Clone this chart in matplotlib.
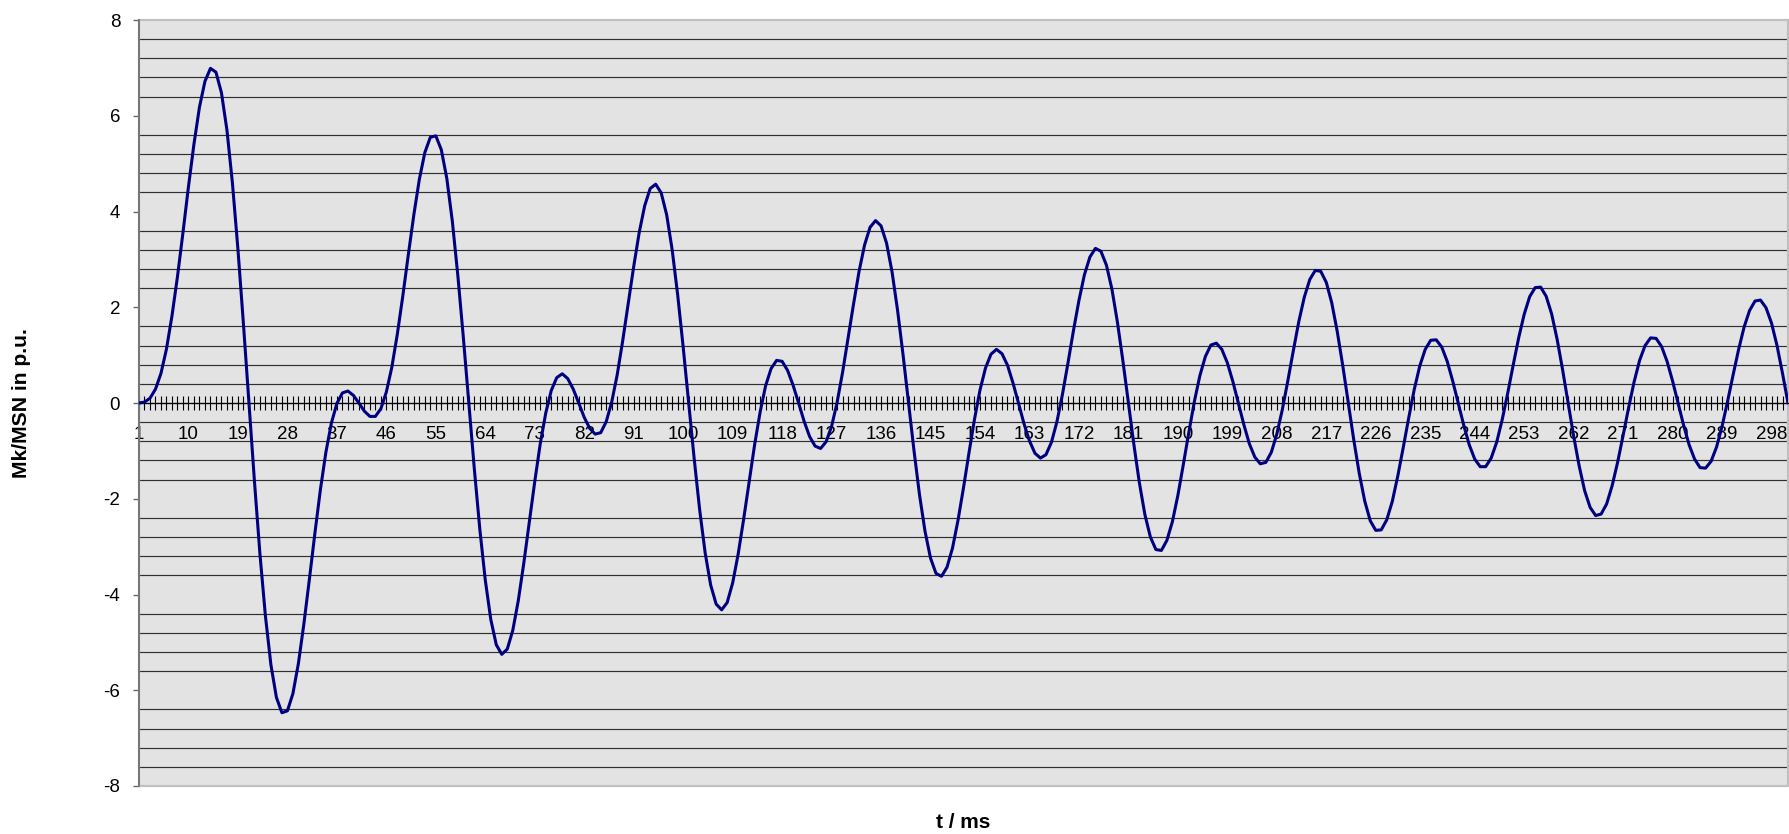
import numpy as np
import matplotlib.pyplot as plt
from matplotlib.patches import Rectangle

plt.rcParams['font.family'] = ['Liberation Sans', 'DejaVu Sans']
plt.rcParams['axes.unicode_minus'] = False

# Mk/MSN in p.u., one value per category 1 .. 301
torque = [
    0.00, 0.02, 0.10, 0.29, 0.62, 1.13, 1.82, 2.64, 3.56, 4.52,
    5.41, 6.18, 6.72, 6.99, 6.91, 6.48, 5.70, 4.59, 3.21, 1.65,
    0.00, -1.63, -3.15, -4.45, -5.47, -6.15, -6.47, -6.43, -6.07, -5.44,
    -4.61, -3.68, -2.72, -1.81, -1.03, -0.42, -0.01, 0.21, 0.25, 0.16,
    0.00, -0.17, -0.28, -0.28, -0.12, 0.23, 0.75, 1.44, 2.24, 3.10,
    3.93, 4.67, 5.23, 5.55, 5.58, 5.29, 4.69, 3.80, 2.67, 1.38,
    0.00, -1.37, -2.63, -3.70, -4.52, -5.05, -5.25, -5.14, -4.75, -4.13,
    -3.35, -2.49, -1.64, -0.85, -0.21, 0.26, 0.53, 0.61, 0.51, 0.29,
    0.00, -0.30, -0.53, -0.65, -0.62, -0.39, 0.02, 0.59, 1.30, 2.08,
    2.85, 3.56, 4.12, 4.48, 4.57, 4.39, 3.93, 3.20, 2.26, 1.17,
    0.00, -1.16, -2.23, -3.13, -3.80, -4.20, -4.32, -4.17, -3.76, -3.16,
    -2.43, -1.65, -0.87, -0.19, 0.36, 0.72, 0.89, 0.87, 0.68, 0.37,
    0.00, -0.38, -0.70, -0.90, -0.95, -0.81, -0.49, 0.01, 0.64, 1.35,
    2.07, 2.75, 3.30, 3.67, 3.81, 3.70, 3.34, 2.74, 1.94, 1.01,
    0.00, -1.00, -1.92, -2.68, -3.24, -3.56, -3.62, -3.43, -3.03, -2.45,
    -1.77, -1.04, -0.34, 0.27, 0.73, 1.02, 1.12, 1.03, 0.79, 0.42,
    0.00, -0.43, -0.79, -1.05, -1.15, -1.08, -0.82, -0.39, 0.18, 0.83,
    1.51, 2.14, 2.68, 3.05, 3.23, 3.17, 2.88, 2.38, 1.69, 0.88,
    0.00, -0.87, -1.67, -2.33, -2.80, -3.06, -3.08, -2.87, -2.48, -1.93,
    -1.28, -0.61, 0.03, 0.57, 0.97, 1.21, 1.25, 1.12, 0.84, 0.45,
    0.00, -0.45, -0.85, -1.13, -1.27, -1.24, -1.03, -0.65, -0.14, 0.46,
    1.09, 1.70, 2.21, 2.58, 2.77, 2.75, 2.52, 2.09, 1.49, 0.78,
    0.00, -0.77, -1.47, -2.05, -2.46, -2.66, -2.65, -2.44, -2.06, -1.53,
    -0.93, -0.31, 0.28, 0.77, 1.12, 1.31, 1.32, 1.17, 0.87, 0.46,
    0.00, -0.46, -0.87, -1.17, -1.33, -1.33, -1.15, -0.82, -0.35, 0.20,
    0.79, 1.36, 1.85, 2.22, 2.41, 2.42, 2.23, 1.86, 1.33, 0.69,
    0.00, -0.69, -1.31, -1.83, -2.18, -2.35, -2.32, -2.11, -1.73, -1.24,
    -0.68, -0.10, 0.44, 0.89, 1.20, 1.36, 1.35, 1.18, 0.87, 0.46,
    0.00, -0.46, -0.87, -1.17, -1.35, -1.36, -1.22, -0.92, -0.49, 0.03,
    0.58, 1.11, 1.58, 1.93, 2.13, 2.15, 1.99, 1.67, 1.20, 0.62,
    0.00,
]
categories = list(range(1, len(torque) + 1))
x_tick_labels = [str(c) if (c - 1) % 9 == 0 else '' for c in categories]
y_ticks = [-8, -6, -4, -2, 0, 2, 4, 6, 8]

W, H = 1789, 834
fig = plt.figure(figsize=(W / 100, H / 100), dpi=100)
ax = fig.add_axes([139 / W, 1 - 786 / H, (1788 - 139) / W, (786 - 20) / H])
ax.set_facecolor('#e3e3e3')

ax.plot(categories, torque, color='#000080', lw=2.2, zorder=3,
        solid_joinstyle='round', solid_capstyle='round')

ax.set_xlim(1, categories[-1])
ax.set_ylim(-8, 8)

# gridlines every 0.4
ax.set_yticks(y_ticks)
ax.set_yticks(np.arange(-7.6, 7.61, 0.4), minor=True)
ax.yaxis.grid(True, which='minor', color='#303030', lw=0.85)
ax.yaxis.grid(False, which='major')
ax.tick_params(axis='y', which='minor', length=0)
ax.tick_params(axis='y', which='major', direction='out', length=4.5, width=1.0,
               color='#666666', pad=9, labelsize=13.5)
ax.set_axisbelow(True)

ax.set_xticks(categories)
ax.set_xticklabels(x_tick_labels)
ax.tick_params(axis='x', which='major', direction='inout', length=9.5, width=0.8,
               color='#000000', pad=12, labelsize=13.5)

ax.spines['bottom'].set_position(('data', 0))
ax.spines['bottom'].set_color('#000000')
ax.spines['bottom'].set_linewidth(1.0)
ax.spines['top'].set_visible(False)
ax.spines['right'].set_visible(False)
ax.spines['left'].set_color('#707070')
ax.spines['left'].set_linewidth(1.3)

ax.add_patch(Rectangle((0, 0), 1, 1, transform=ax.transAxes, fill=False,
                       edgecolor='#c0c0c0', lw=1.6, zorder=2.4, clip_on=False))

fig.text(22 / W, 1 - 403 / H, 'Mk/MSN in p.u.', rotation=90, ha='center', va='center',
         fontsize=15.2, fontweight='bold')
fig.text(963.5 / W, 1 - 822 / H, 't / ms', ha='center', va='center',
         fontsize=15, fontweight='bold')

fig.savefig('out.png', dpi=100, facecolor='white')
